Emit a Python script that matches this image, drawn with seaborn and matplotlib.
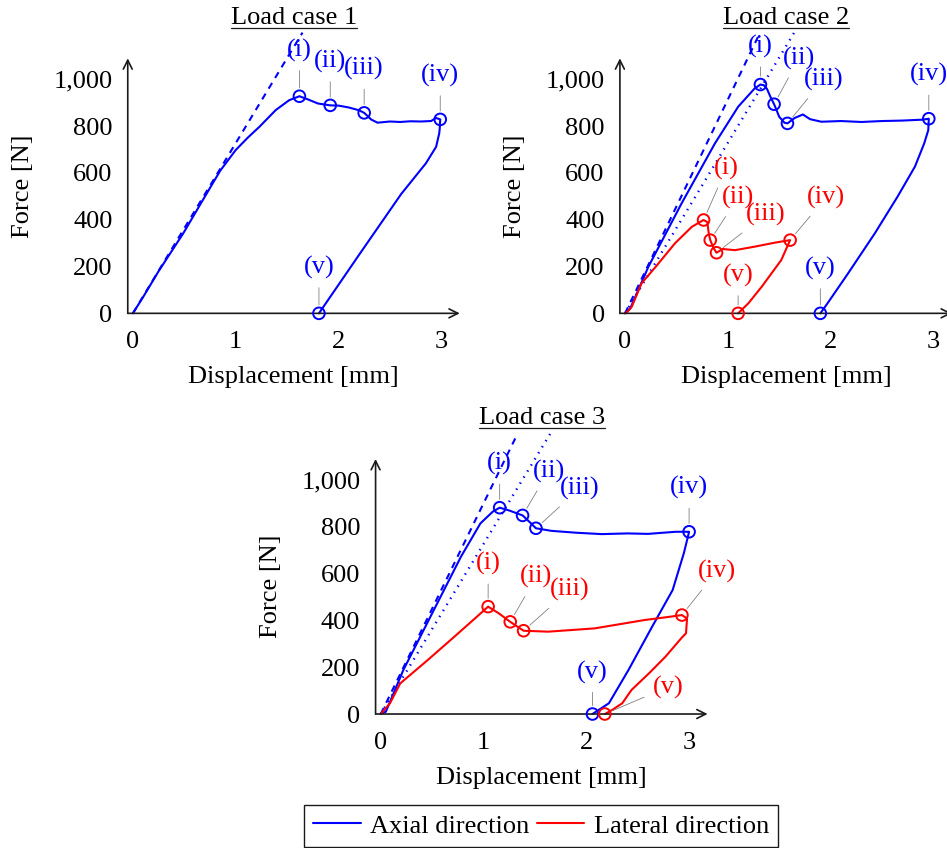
import seaborn as sns
import matplotlib.pyplot as plt
from matplotlib.lines import Line2D

# ---- data (displacement in mm, force in N) ----
lc1_axial_x = [0, 0.1, 0.25, 0.49, 0.68, 0.85, 1.0, 1.12, 1.23, 1.39, 1.52, 1.62,
               1.7, 1.8, 1.92, 2.0, 2.1, 2.2, 2.25, 2.32, 2.38, 2.5, 2.6, 2.7, 2.8, 2.9, 2.95, 2.99,
               2.985, 2.98, 2.95, 2.85, 2.61, 2.2, 1.81]
lc1_axial_f = [0, 70, 180, 342, 484, 610, 698, 752, 797, 869, 911, 928,
               915, 897, 889, 888, 880, 868, 857, 828, 815, 820, 818, 821, 820, 822, 835, 829,
               790, 769, 712, 641, 510, 250, 0]
lc1_axial_pts_x = [1.62, 1.92, 2.25, 2.99, 1.81]
lc1_axial_pts_f = [928, 889, 857, 829, 0]
lc1_dashed_x = [0, 1.65]
lc1_dashed_f = [0, 1200]

lc2_axial_x = [0, 0.05, 0.227, 0.55, 0.874, 1.10, 1.26, 1.317,
               1.35, 1.38, 1.42, 1.45, 1.5, 1.55, 1.58, 1.65, 1.73, 1.8, 1.91, 2.1, 2.3, 2.5, 2.7, 2.9, 2.955,
               2.95, 2.91, 2.82, 2.65, 2.43, 2.17, 1.97, 1.90]
lc2_axial_f = [0, 20, 199, 470, 726, 883, 961, 978,
               975, 960, 920, 894, 840, 815, 812, 835, 850, 830, 819, 822, 818, 822, 824, 828, 832,
               783, 726, 627, 498, 342, 171, 43, 0]
lc2_axial_pts_x = [1.317, 1.45, 1.58, 2.955, 1.90]
lc2_axial_pts_f = [978, 894, 812, 832, 0]
lc2_lateral_x = [0, 0.03, 0.065, 0.16, 0.3, 0.485, 0.65, 0.764,
                 0.80, 0.815, 0.829, 0.86, 0.89, 0.95, 1.07, 1.26, 1.456, 1.606,
                 1.52, 1.33, 1.20, 1.10]
lc2_lateral_f = [0, 10, 28, 128, 200, 299, 370, 399,
                 390, 340, 313, 280, 259, 275, 270, 285, 302, 313,
                 228, 114, 43, 0]
lc2_lateral_pts_x = [0.764, 0.829, 0.89, 1.606, 1.10]
lc2_lateral_pts_f = [399, 313, 259, 313, 0]
lc2_dashed_x = [0, 1.31]
lc2_dashed_f = [0, 1197]
lc2_dotted_x = [0, 1.65]
lc2_dotted_f = [0, 1203]

lc3_axial_x = [0, 0.05, 0.22, 0.45, 0.78, 0.97, 1.09, 1.157,
               1.25, 1.38, 1.45, 1.51, 1.66, 1.9, 2.15, 2.4, 2.6, 2.87, 3.0,
               2.95, 2.84, 2.64, 2.41, 2.22, 2.06]
lc3_axial_f = [0, 10, 188, 387, 672, 815, 865, 882,
               870, 849, 820, 794, 783, 775, 769, 772, 770, 779, 779,
               689, 530, 373, 188, 46, 0]
lc3_axial_pts_x = [1.157, 1.38, 1.51, 3.0, 2.06]
lc3_axial_pts_f = [882, 849, 794, 779, 0]
lc3_lateral_x = [0, 0.09, 0.19, 0.45, 0.71, 0.91, 1.045,
                 1.15, 1.26, 1.39, 1.63, 2.08, 2.57, 2.80, 2.93,
                 2.98, 2.97, 2.93, 2.77, 2.61, 2.44, 2.35, 2.25, 2.18]
lc3_lateral_f = [0, 46, 131, 228, 328, 406, 459,
                 430, 394, 356, 352, 366, 402, 415, 423,
                 408, 345, 327, 245, 174, 103, 46, 17, 0]
lc3_lateral_pts_x = [1.045, 1.26, 1.39, 2.93, 2.18]
lc3_lateral_pts_f = [459, 394, 356, 423, 0]
lc3_dashed_x = [0, 1.333]
lc3_dashed_f = [0, 1200]
lc3_dotted_x = [0, 1.66]
lc3_dotted_f = [0, 1206]

point_labels = ['(i)', '(ii)', '(iii)', '(iv)', '(v)']
x_ticks = [0, 1, 2, 3]
y_ticks = [0, 200, 400, 600, 800, 1000]
y_tick_labels = ['0', '200', '400', '600', '800', '1,000']
titles = ['Load case 1', 'Load case 2', 'Load case 3']
legend_labels = ['Axial direction', 'Lateral direction']

# label offsets (pixels, right / up) for the pins
pin_offsets = {
    'lc1_axial': [(0, 46), (0, 44), (0, 44), (0, 44), (0, 46)],
    'lc2_axial': [(0, 38), (25, 46), (36, 44), (0, 44), (0, 45)],
    'lc2_lateral': [(23, 52), (28, 43), (49, 38), (36, 43), (0, 38)],
    'lc3_axial': [(0, 44), (26, 44), (44, 40), (0, 44), (0, 42)],
    'lc3_lateral': [(0, 43), (26, 45), (46, 41), (35, 44), (63, 27)],
}

BLUE = '#0000ff'
RED = '#ff0000'
LW = 1.5

sns.set_theme(style='white')
plt.rcParams['font.family'] = ['Liberation Serif', 'DejaVu Serif']
plt.rcParams['font.size'] = 19
plt.rcParams['text.color'] = 'black'
plt.rcParams['axes.labelcolor'] = 'black'
plt.rcParams['xtick.labelcolor'] = 'black'
plt.rcParams['ytick.labelcolor'] = 'black'
plt.rcParams['axes.spines.top'] = False
plt.rcParams['axes.spines.right'] = False

fig = plt.figure(figsize=(9.47, 8.48), dpi=100)
ax1 = fig.add_axes([0.1349, 0.6305, 0.3506, 0.3007])
ax2 = fig.add_axes([0.6546, 0.6305, 0.3506, 0.3007])
ax3 = fig.add_axes([0.3966, 0.1580, 0.3506, 0.3007])


def draw_curve(ax, x, f, color, px, pf, key):
    sns.lineplot(x=x, y=f, sort=False, estimator=None, color=color, lw=LW, ax=ax, clip_on=False)
    sns.scatterplot(x=px, y=pf, marker='o', s=70, facecolor='none', edgecolor=color,
                    linewidth=1.4, ax=ax, clip_on=False, zorder=4)
    for lab, xx, ff, (dx, dy) in zip(point_labels, px, pf, pin_offsets[key]):
        ax.annotate(lab, xy=(xx, ff), xytext=(dx, dy), textcoords='offset pixels',
                    ha='center', va='center', color=color, fontsize=19,
                    arrowprops=dict(arrowstyle='-', color='gray', lw=0.6,
                                    shrinkA=4, shrinkB=6))


def style_axes(ax, title):
    ax.set_xlim(-0.05, 3.18)
    ax.set_ylim(0, 1090)
    ax.set_xticks(x_ticks)
    ax.set_yticks(y_ticks)
    ax.set_yticklabels(y_tick_labels)
    ax.tick_params(direction='inout', length=8, width=0.5, color='0.4', labelsize=19)
    ax.tick_params(axis='x', pad=9)
    ax.tick_params(axis='y', pad=7)
    ax.set_xlabel('Displacement [mm]', fontsize=19, labelpad=9)
    ax.set_ylabel('Force [N]', fontsize=19, labelpad=14)
    ax.spines['left'].set_visible(False)
    ax.spines['bottom'].set_visible(False)
    ax.annotate('', xy=(1.0, 0), xytext=(0, 0), xycoords='axes fraction',
                arrowprops=dict(arrowstyle='->', lw=1.2, color='k', mutation_scale=16,
                                shrinkA=0, shrinkB=0))
    ax.annotate('', xy=(0, 1.0), xytext=(0, 0), xycoords='axes fraction',
                arrowprops=dict(arrowstyle='->', lw=1.2, color='k', mutation_scale=16,
                                shrinkA=0, shrinkB=0))
    ax.set_title(title, fontsize=19, pad=25)


# Load case 1
sns.lineplot(x=lc1_dashed_x, y=lc1_dashed_f, color=BLUE, lw=LW, ls=(0, (3.2, 2.8)), ax=ax1, clip_on=False)
draw_curve(ax1, lc1_axial_x, lc1_axial_f, BLUE, lc1_axial_pts_x, lc1_axial_pts_f, 'lc1_axial')
style_axes(ax1, titles[0])

# Load case 2
sns.lineplot(x=lc2_dashed_x, y=lc2_dashed_f, color=BLUE, lw=LW, ls=(0, (3.2, 2.8)), ax=ax2, clip_on=False)
sns.lineplot(x=lc2_dotted_x, y=lc2_dotted_f, color=BLUE, lw=1.7, ls=(0, (0.6, 2.4)), ax=ax2, clip_on=False)
draw_curve(ax2, lc2_axial_x, lc2_axial_f, BLUE, lc2_axial_pts_x, lc2_axial_pts_f, 'lc2_axial')
draw_curve(ax2, lc2_lateral_x, lc2_lateral_f, RED, lc2_lateral_pts_x, lc2_lateral_pts_f, 'lc2_lateral')
style_axes(ax2, titles[1])

# Load case 3
sns.lineplot(x=lc3_dashed_x, y=lc3_dashed_f, color=BLUE, lw=LW, ls=(0, (3.2, 2.8)), ax=ax3, clip_on=False)
sns.lineplot(x=lc3_dotted_x, y=lc3_dotted_f, color=BLUE, lw=1.7, ls=(0, (0.6, 2.4)), ax=ax3, clip_on=False)
draw_curve(ax3, lc3_axial_x, lc3_axial_f, BLUE, lc3_axial_pts_x, lc3_axial_pts_f, 'lc3_axial')
draw_curve(ax3, lc3_lateral_x, lc3_lateral_f, RED, lc3_lateral_pts_x, lc3_lateral_pts_f, 'lc3_lateral')
style_axes(ax3, titles[2])

handles = [Line2D([], [], color=BLUE, lw=LW), Line2D([], [], color=RED, lw=LW)]
leg = fig.legend(handles, legend_labels, loc='upper center', bbox_to_anchor=(0.5713, 1 - 805 / 848),
                 ncol=2, frameon=True, fancybox=False, edgecolor='k', framealpha=1, fontsize=19,
                 handlelength=1.8, handletextpad=0.35, columnspacing=0.3, borderpad=0.35,
                 borderaxespad=0)
leg.get_frame().set_linewidth(1.0)

# underline the titles
fig.canvas.draw()
for ax in (ax1, ax2, ax3):
    bb = ax.title.get_window_extent()
    fig.add_artist(Line2D([bb.x0, bb.x1], [bb.y0 + 1, bb.y0 + 1], color='k', lw=0.9, transform=None))

fig.savefig('out.png', dpi=100)
